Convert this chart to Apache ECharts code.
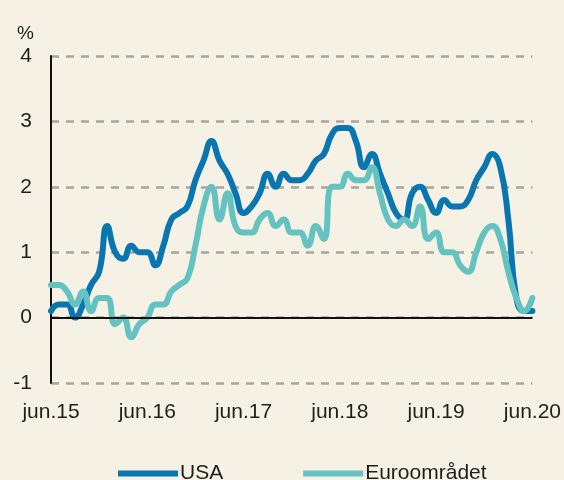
<!DOCTYPE html>
<html>
<head>
<meta charset="utf-8">
<script src="https://cdn.jsdelivr.net/npm/echarts@6/dist/echarts.min.js"></script>
<style>
  html, body { margin: 0; padding: 0; background: #f5f1e5; }
  #chart { width: 564px; height: 480px; }
</style>
</head>
<body>
<div id="chart"></div>
<script>
// månedlig, jun.15 - jun.20
var monthNames = ['jan', 'feb', 'mar', 'apr', 'mai', 'jun', 'jul', 'aug', 'sep', 'okt', 'nov', 'des'];
var startYear = 15, startMonth = 5, monthCount = 61;
var usa = [0.1, 0.2, 0.2, 0.0, 0.2, 0.5, 0.7, 1.4, 1.0, 0.9, 1.1, 1.0, 1.0, 0.8, 1.1, 1.5, 1.6, 1.7, 2.1, 2.4, 2.7,
    2.4, 2.2, 1.9, 1.6, 1.7, 1.9, 2.2, 2.0, 2.2, 2.1, 2.1, 2.2, 2.4, 2.5, 2.8, 2.9, 2.9, 2.7, 2.3, 2.5,
    2.2, 1.9, 1.6, 1.5, 1.9, 2.0, 1.8, 1.6, 1.8, 1.7, 1.7, 1.8, 2.1, 2.3, 2.5, 2.3, 1.5, 0.3, 0.1, 0.1];
var euro = [0.5, 0.5, 0.4, 0.2, 0.4, 0.1, 0.3, 0.3, -0.1, 0.0, -0.3, -0.1, 0.0, 0.2, 0.2, 0.4, 0.5, 0.6, 1.1, 1.7, 2.0,
    1.5, 1.9, 1.4, 1.3, 1.3, 1.5, 1.6, 1.4, 1.5, 1.3, 1.3, 1.1, 1.4, 1.2, 2.0, 2.0, 2.2, 2.1, 2.1, 2.3,
    1.9, 1.5, 1.4, 1.5, 1.4, 1.7, 1.2, 1.3, 1.0, 1.0, 0.8, 0.7, 1.0, 1.3, 1.4, 1.2, 0.7, 0.3, 0.1, 0.3];
var seriesNames = ['USA', 'Euroområdet'];
var yTicks = [-1, 0, 1, 2, 3, 4];

var categories = [];
for (var i = 0; i < monthCount; i++) {
    var m = (startMonth + i) % 12;
    var y = startYear + Math.floor((startMonth + i) / 12);
    categories.push(monthNames[m] + '.' + y);
}

var textColor = '#1e1e1e';
var font = '"Liberation Sans", Arial, sans-serif';

var chart = echarts.init(document.getElementById('chart'));
var option = {
    backgroundColor: '#f5f1e5',
    animation: false,
    title: {
        text: '%',
        left: 12,
        top: 19,
        textStyle: { fontSize: 19, fontWeight: 'normal', color: textColor, fontFamily: font }
    },
    legend: {
        data: seriesNames,
        left: 113,
        top: 458,
        icon: 'rect',
        itemWidth: 60,
        itemHeight: 6,
        itemGap: 80,
        textStyle: { fontSize: 21, color: textColor, fontFamily: font, padding: [0, 0, 0, -3] }
    },
    grid: {
        left: 51,
        right: 29,
        top: 56,
        bottom: 97,
        containLabel: false
    },
    xAxis: {
        type: 'category',
        data: categories,
        boundaryGap: false,
        axisLine: { show: false, onZero: false },
        axisTick: { show: false },
        axisLabel: {
            interval: 11,
            margin: 19,
            fontSize: 21,
            color: textColor,
            fontFamily: font
        },
        splitLine: { show: false }
    },
    yAxis: {
        type: 'value',
        min: yTicks[0],
        max: yTicks[yTicks.length - 1],
        interval: 1,
        axisLine: { show: true, lineStyle: { color: '#111', width: 2 } },
        axisTick: { show: false },
        axisLabel: {
            margin: 19,
            fontSize: 21,
            color: textColor,
            fontFamily: font
        },
        splitLine: {
            show: true,
            lineStyle: { color: '#aba49c', width: 2.5, type: [8, 7] }
        }
    },
    series: [
        {
            name: seriesNames[0],
            type: 'line',
            data: usa,
            smooth: 0.5,
            symbol: 'none',
            color: '#0a76b0',
            lineStyle: { width: 6, cap: 'round', join: 'round' },
            markLine: {
                silent: true,
                symbol: 'none',
                label: { show: false },
                lineStyle: { color: '#111', width: 2, type: 'solid' },
                data: [{ yAxis: 0 }]
            },
            z: 2
        },
        {
            name: seriesNames[1],
            type: 'line',
            data: euro,
            smooth: 0.5,
            symbol: 'none',
            color: '#64c3c1',
            lineStyle: { width: 6, cap: 'round', join: 'round' },
            z: 3
        }
    ]
};
chart.setOption(option);
window.addEventListener('resize', function () {
    chart.resize();
});
</script>
</body>
</html>
